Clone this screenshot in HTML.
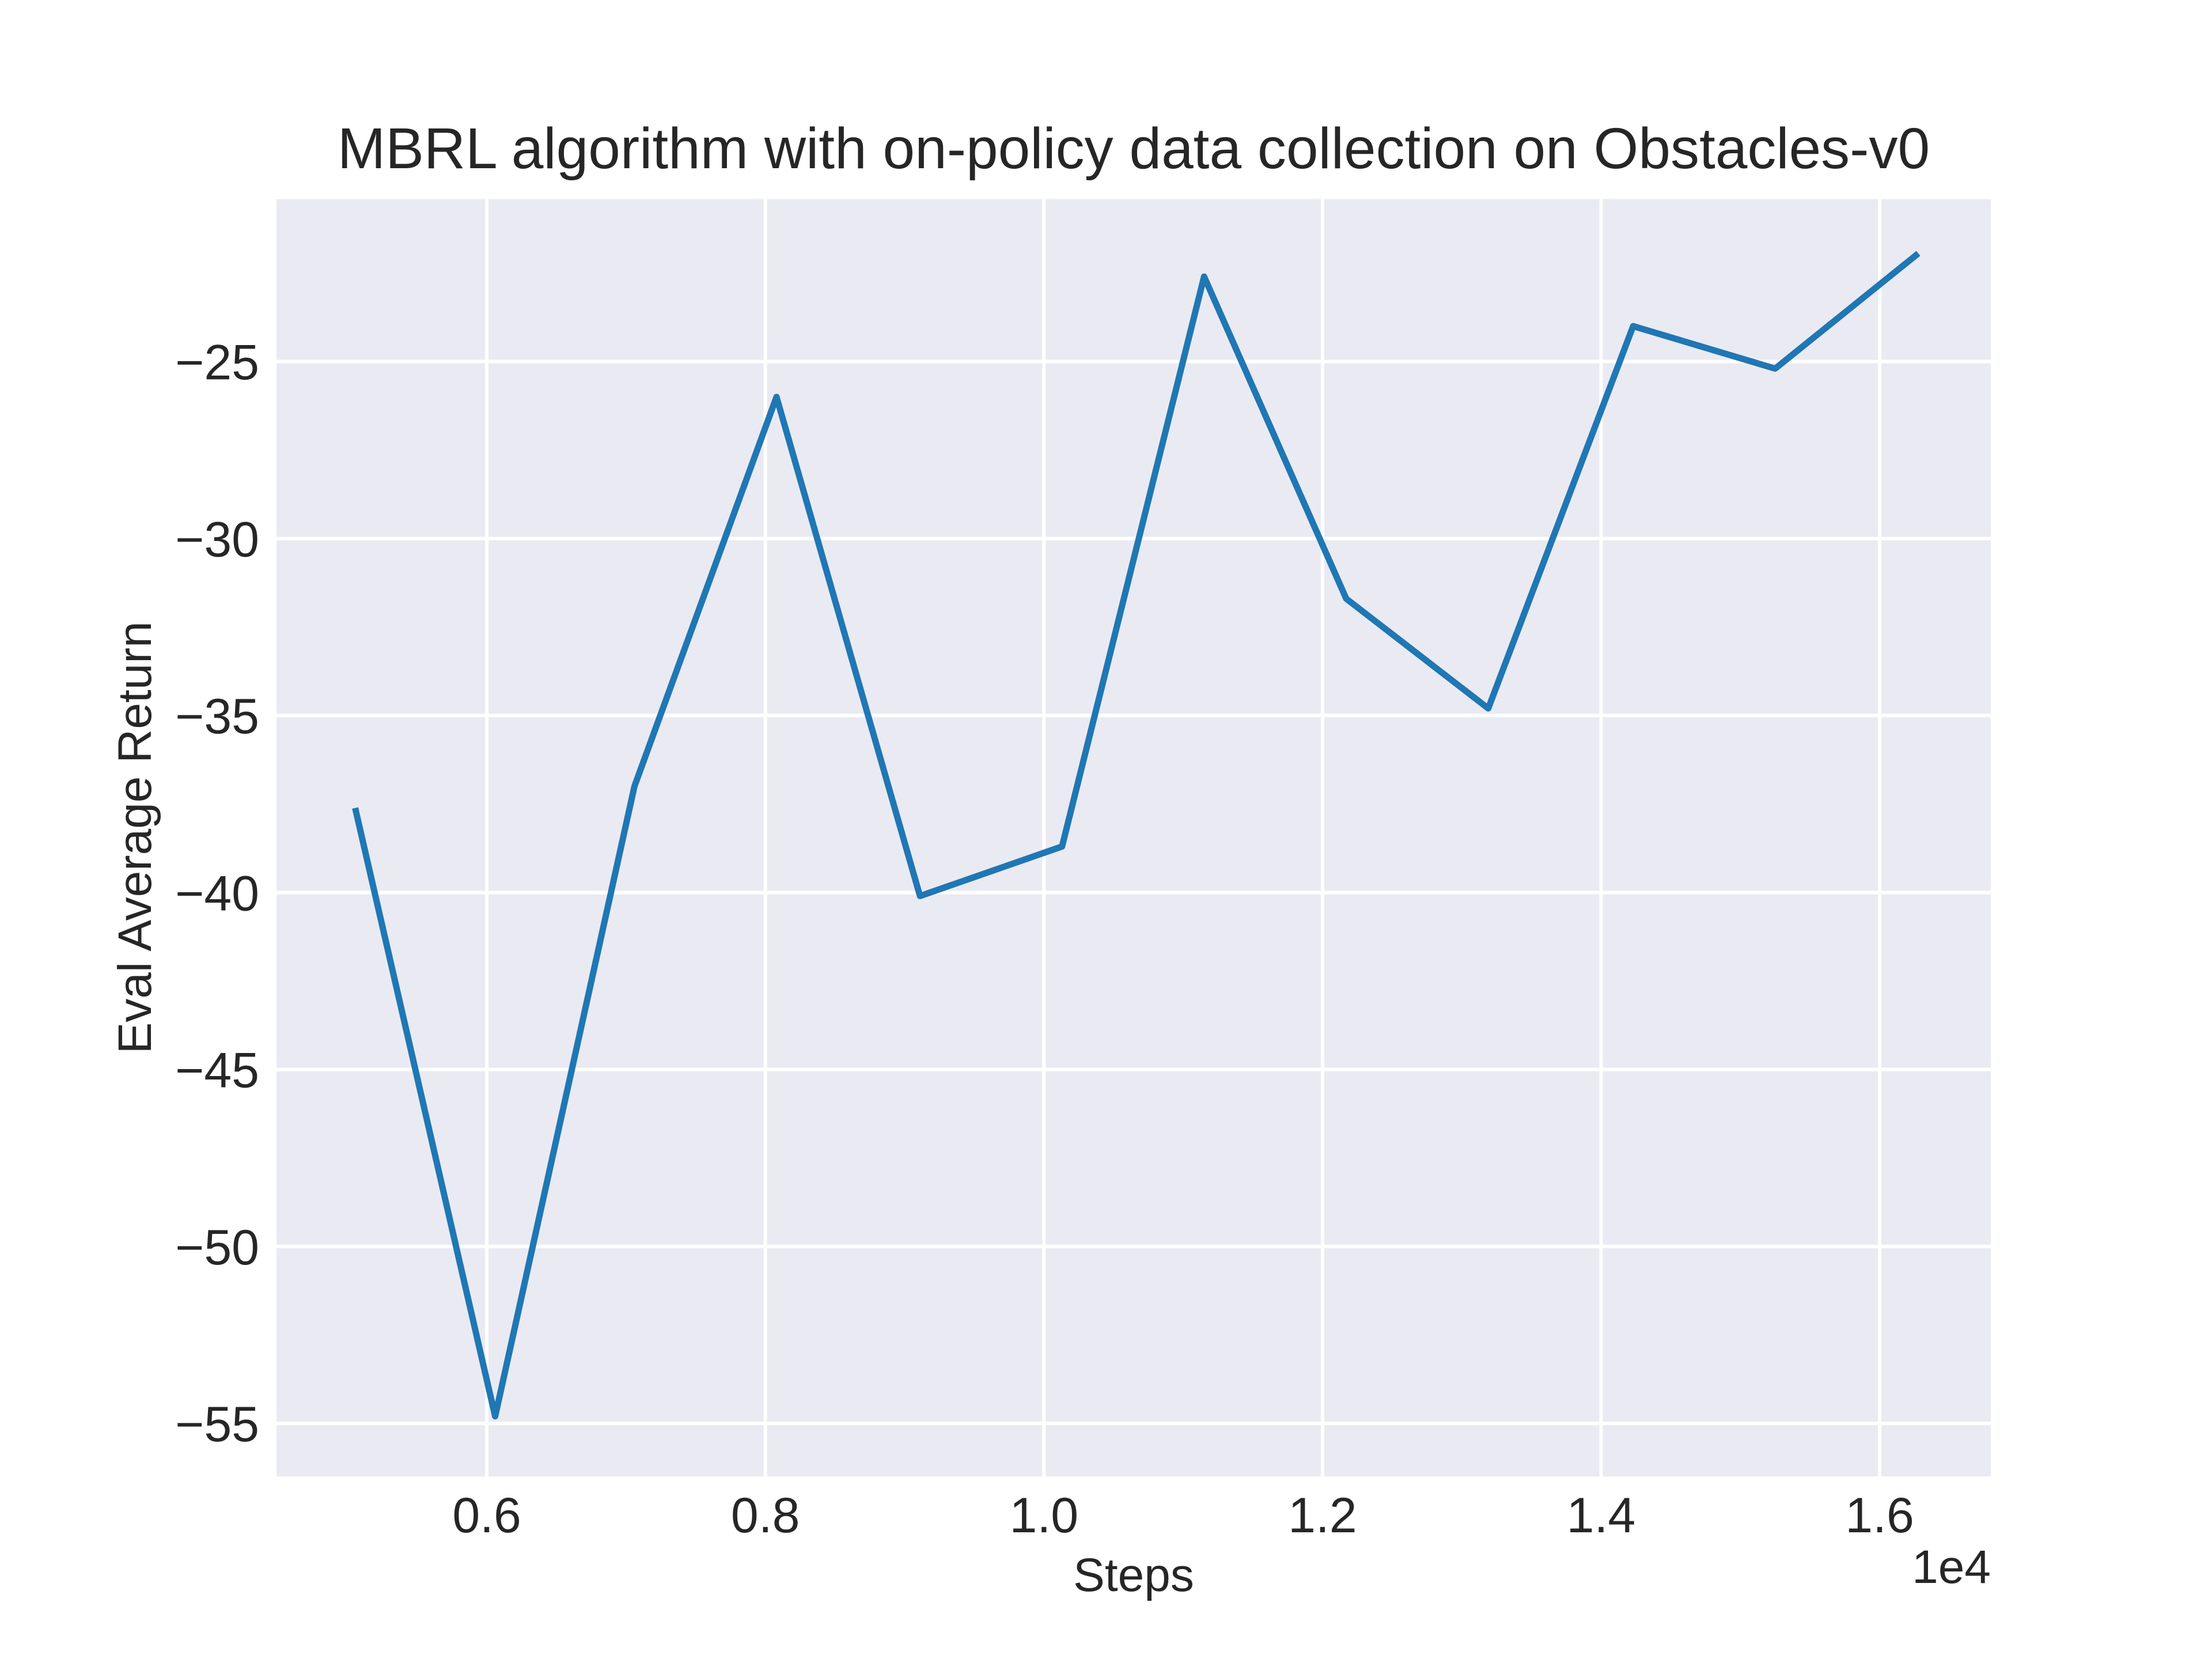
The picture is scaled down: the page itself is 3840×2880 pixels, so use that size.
<!DOCTYPE html>
<html><head><meta charset="utf-8"><style>
html,body{margin:0;padding:0;background:#fff}
svg{display:block}
text{font-family:"Liberation Sans",Arial,sans-serif;fill:#262626}
</style></head><body>
<svg id="chart" width="3840" height="2880" viewBox="0 0 3840 2880" xmlns="http://www.w3.org/2000/svg">
<rect x="0" y="0" width="3840" height="2880" fill="#ffffff"/>
<rect x="480" y="345.6" width="2976" height="2217.6" fill="#EAEAF2"/>
<g id="grid"></g>
<g id="ticks"></g>
<path id="series" fill="none" stroke="#1f77b4" stroke-width="11" stroke-linejoin="round" stroke-linecap="square"/>
<text x="1968" y="292" font-size="100" text-anchor="middle">MBRL algorithm with on-policy data collection on Obstacles-v0</text>
<text x="1968" y="2762" font-size="82" text-anchor="middle">Steps</text>
<text x="3456" y="2748" font-size="82" text-anchor="end">1e4</text>
<text x="0" y="0" font-size="82" text-anchor="middle" transform="translate(262,1454) rotate(-90)">Eval Average Return</text>
</svg>
<script>
const steps = [5060, 6060, 7060, 8080, 9110, 10130, 11150, 12170, 13190, 14230, 15250, 16260];
const returns = [-37.7, -54.8, -37.0, -26.0, -40.1, -38.7, -22.6, -31.7, -34.8, -24.0, -25.2, -22.0];
const xTicks = [0.6, 0.8, 1.0, 1.2, 1.4, 1.6];
const xTickLabels = ["0.6", "0.8", "1.0", "1.2", "1.4", "1.6"];
const yTicks = [-25, -30, -35, -40, -45, -50, -55];
const yTickLabels = ["\u221225", "\u221230", "\u221235", "\u221240", "\u221245", "\u221250", "\u221255"];

const L = 480, R = 3456, T = 345.6, B = 2563.2;
const xMin = 4490, xMax = 16798, yMin = -56.5, yMax = -20.41;
function sx(v){ return L + (v - xMin) / (xMax - xMin) * (R - L); }
function sy(v){ return B - (v - yMin) / (yMax - yMin) * (B - T); }
const NS = "http://www.w3.org/2000/svg";
const grid = document.getElementById('grid');
const ticks = document.getElementById('ticks');
xTicks.forEach((t, i) => {
  const x = sx(t * 10000);
  const ln = document.createElementNS(NS, 'line');
  
  
  ln.setAttribute('x1', x); ln.setAttribute('x2', x);
  ln.setAttribute('y1', T); ln.setAttribute('y2', B);
  ln.setAttribute('stroke', '#ffffff'); ln.setAttribute('stroke-width', '6');
  grid.appendChild(ln);
  const tx = document.createElementNS(NS, 'text');
  
  
  tx.setAttribute('x', x); tx.setAttribute('y', 2660);
  tx.setAttribute('font-size', '86'); tx.setAttribute('text-anchor', 'middle');
  tx.textContent = xTickLabels[i];
  ticks.appendChild(tx);
});
yTicks.forEach((t, i) => {
  const y = sy(t);
  const ln = document.createElementNS(NS, 'line');
  
  
  ln.setAttribute('x1', L); ln.setAttribute('x2', R);
  ln.setAttribute('y1', y); ln.setAttribute('y2', y);
  ln.setAttribute('stroke', '#ffffff'); ln.setAttribute('stroke-width', '6');
  grid.appendChild(ln);
  const tx = document.createElementNS(NS, 'text');
  
  
  tx.setAttribute('x', 450); tx.setAttribute('y', y + 31);
  tx.setAttribute('font-size', '86'); tx.setAttribute('text-anchor', 'end');
  tx.textContent = yTickLabels[i];
  ticks.appendChild(tx);
});
let d = '';
steps.forEach((s, i) => { d += (i ? 'L' : 'M') + sx(s).toFixed(1) + ' ' + sy(returns[i]).toFixed(1) + ' '; });
document.getElementById('series').setAttribute('d', d);
</script>
</body></html>
